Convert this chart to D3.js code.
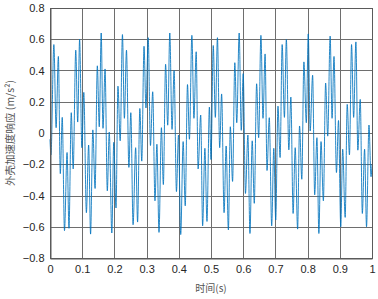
<!DOCTYPE html>
<html><head><meta charset="utf-8">
<script src="https://cdn.jsdelivr.net/npm/d3@7"></script>
<style>body{margin:0;background:#fff}svg{display:block}</style>
</head><body>
<svg id="c" width="378" height="299"></svg>
<script>
// time (s) of successive extrema
const timeS = [0,0.003,0.012,0.019,0.026,0.032,0.038,0.045,0.053,0.059,0.066,0.072,0.080,0.086,0.092,0.099,
0.105,0.113,0.120,0.126,0.133,0.140,0.147,0.153,0.159,0.1646,0.171,0.178,0.184,0.192,0.198,0.205,0.211,0.218,
0.225,0.231,0.2375,0.245,0.251,0.258,0.266,0.272,0.279,0.285,0.292,0.298,0.305,0.312,0.319,0.326,0.332,
0.3385,0.346,0.352,0.359,0.3656,0.372,0.379,0.3854,0.3927,0.399,0.406,0.4135,0.42,0.427,0.433,0.4406,0.447,
0.454,0.46,0.468,0.474,0.481,0.4875,0.495,0.5,0.507,0.5135,0.52,0.527,0.533,0.5406,0.547,0.554,0.56,0.567,
0.574,0.58,0.5875,0.594,0.6,0.607,0.6146,0.621,0.628,0.6344,0.6417,0.648,0.655,0.6615,0.668,0.674,0.681,
0.6885,0.695,0.701,0.708,0.7146,0.721,0.728,0.734,0.7417,0.748,0.755,0.7615,0.769,0.775,0.782,0.7885,0.796,
0.802,0.808,0.8156,0.822,0.829,0.835,0.8417,0.849,0.856,0.8625,0.87,0.876,0.882,0.8896,0.896,0.903,0.909,
0.9167,0.923,0.930,0.9365,0.943,0.95,0.956,0.9635,0.97,0.977,0.983,0.9906,0.997,1.0];
// acceleration response (m/s^2) at those times
const accel = [-0.04,-0.14,0.566,0.034,0.49,-0.26,0.10,-0.625,-0.125,-0.61,0.13,-0.23,0.53,0.07,0.60,-0.094,
0.26,-0.51,-0.077,-0.647,0.02,-0.355,0.43,0.04,0.64,0.03,0.41,-0.37,0.006,-0.64,-0.06,-0.48,0.30,-0.05,
0.63,0.094,0.53,-0.22,0.13,-0.587,-0.094,-0.57,0.157,-0.18,0.555,0.16,0.61,-0.08,0.264,-0.434,-0.072,
-0.636,0.034,-0.33,0.44,0.05,0.64,0.023,0.40,-0.375,-0.013,-0.65,-0.055,-0.466,0.31,-0.04,0.625,0.094,
0.52,-0.23,0.115,-0.594,-0.098,-0.566,0.166,-0.17,0.56,0.10,0.61,-0.094,0.25,-0.51,-0.083,-0.62,0.04,-0.31,
0.45,0.066,0.64,0.017,0.38,-0.387,-0.013,-0.643,-0.05,-0.45,0.315,-0.03,0.625,0.094,0.506,-0.24,0.098,
-0.594,-0.098,-0.557,0.172,-0.157,0.566,0.10,0.598,-0.108,0.23,-0.515,-0.094,-0.615,0.045,-0.296,0.455,0.066,
0.634,0.013,0.37,-0.396,-0.03,-0.643,-0.055,-0.434,0.32,-0.02,0.62,0.094,0.49,-0.253,0.08,-0.60,-0.104,
-0.54,0.183,-0.14,0.566,0.10,0.583,-0.11,0.215,-0.515,-0.104,-0.60,0.051,-0.28,-0.2];
const xTicks = [0,0.1,0.2,0.3,0.4,0.5,0.6,0.7,0.8,0.9,1];
const yTicks = [-0.8,-0.6,-0.4,-0.2,0,0.2,0.4,0.6,0.8];
const xLabel = "时间(s)";
const yLabel = "外壳加速度响应 (m/s²)";

const svg = d3.select("#c");
const L=50, R=372, T=8, B=258;
const x = d3.scaleLinear().domain([0,1]).range([L,R]);
const y = d3.scaleLinear().domain([-0.8,0.8]).range([B,T]);
const gridC = "#6e6e6e";
const font = "'Liberation Sans', Arial, sans-serif";

// grid
svg.append("g").selectAll("line").data(xTicks).join("line")
  .attr("x1",d=>Math.round(x(d))+0.5).attr("x2",d=>Math.round(x(d))+0.5)
  .attr("y1",T).attr("y2",B).attr("stroke",gridC).attr("stroke-width",1);
svg.append("g").selectAll("line").data(yTicks).join("line")
  .attr("y1",d=>Math.round(y(d))+0.5).attr("y2",d=>Math.round(y(d))+0.5)
  .attr("x1",L).attr("x2",R).attr("stroke",gridC).attr("stroke-width",1);

// line
const data = timeS.map((t,i)=>[t,accel[i]]);
svg.append("path").datum(data)
  .attr("fill","none").attr("stroke","#0072BD").attr("stroke-width",0.85)
  .attr("d", d3.line().x(d=>x(d[0])).y(d=>y(d[1])).curve(d3.curveMonotoneX));

// axes
const xa = svg.append("g").attr("transform",`translate(0,${B+0.5})`)
  .call(d3.axisBottom(x).tickValues(xTicks).tickFormat(d3.format("")).tickSize(0).tickPadding(7));
const ya = svg.append("g").attr("transform",`translate(${L+0.5},0)`)
  .call(d3.axisLeft(y).tickValues(yTicks).tickFormat(d3.format("")).tickSize(0).tickPadding(6));
[xa,ya].forEach(g=>{
  g.select(".domain").attr("stroke","#5a5a5a");
  g.selectAll("text").attr("font-family",font).attr("font-size",11).attr("fill","#262626");
});
// box top/right
svg.append("rect").attr("x",L+0.5).attr("y",T+0.5).attr("width",R-L).attr("height",B-T)
  .attr("fill","none").attr("stroke","#5a5a5a");

svg.append("text").attr("x",(L+R)/2).attr("y",292).attr("text-anchor","middle")
  .attr("font-family","'Noto Sans CJK SC', sans-serif").attr("font-size",10).attr("fill","#555").text(xLabel);
svg.append("text").attr("transform",`translate(14,${(T+B)/2}) rotate(-90)`).attr("text-anchor","middle")
  .attr("font-family","'Noto Sans CJK SC', sans-serif").attr("font-size",10.5).attr("fill","#555").text(yLabel);
</script>
</body></html>
